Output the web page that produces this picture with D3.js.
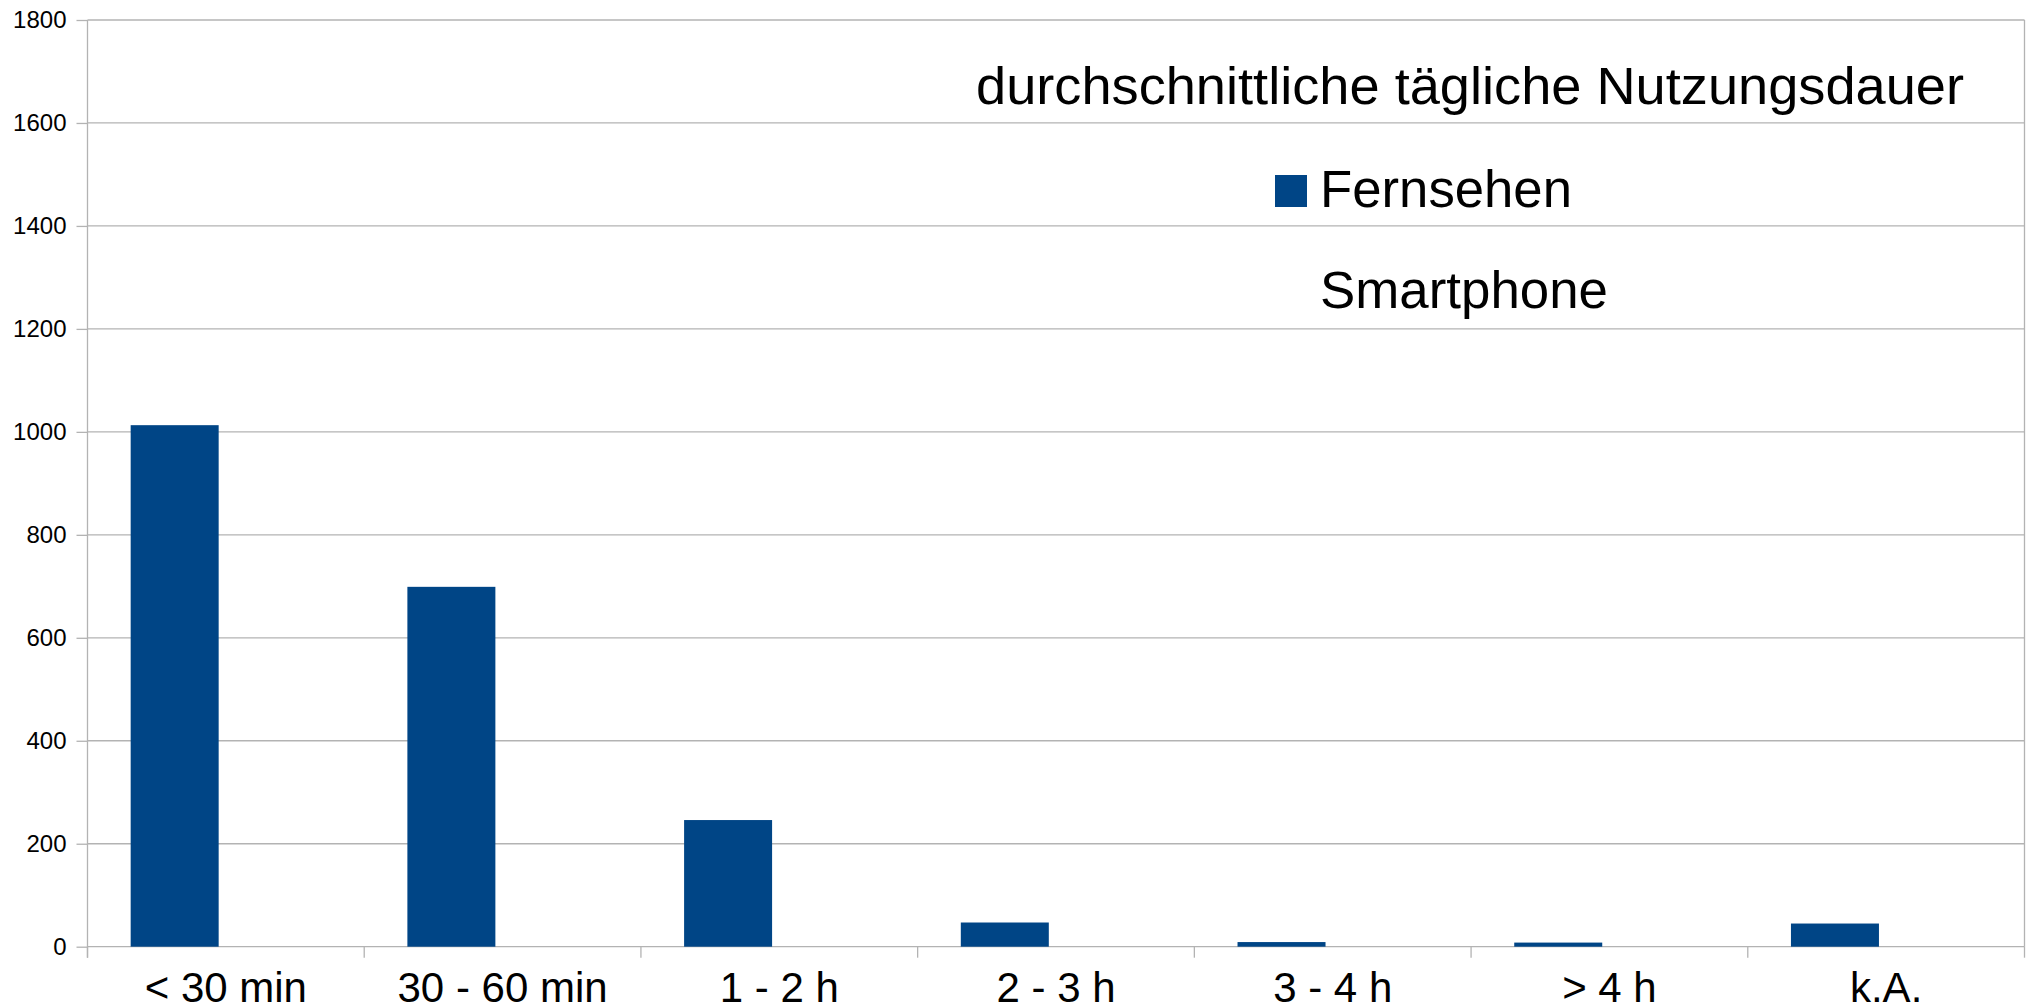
<!DOCTYPE html>
<html>
<head>
<meta charset="utf-8">
<script src="https://cdn.jsdelivr.net/npm/d3@7"></script>
<style>
  html, body { margin: 0; padding: 0; background: #fff; }
  svg text { font-family: "Liberation Sans", Arial, sans-serif; fill: #000; }
</style>
</head>
<body>
<div id="chart"></div>
<script>
// Chart data
const categories = ['< 30 min', '30 - 60 min', '1 - 2 h', '2 - 3 h', '3 - 4 h', '> 4 h', 'k.A.'];
const seriesNames = ['Fernsehen', 'Smartphone'];
const fernsehen = [1013, 699, 246, 47, 9, 8, 45];
const smartphone = [null, null, null, null, null, null, null];
const yTicks = [0, 200, 400, 600, 800, 1000, 1200, 1400, 1600, 1800];
const legendTitle = 'durchschnittliche tägliche Nutzungsdauer';
const seriesColors = ['#004586', 'none'];

const width = 2030, height = 1008;
const plot = { left: 87.5, right: 2024.5, top: 20, bottom: 946.7 };
const gridColor = '#b3b3b3';

const svg = d3.select('#chart')
    .append('svg')
    .attr('width', width)
    .attr('height', height);

const x0 = d3.scaleBand()
    .domain(categories)
    .range([plot.left, plot.right])
    .padding(0);

const bw = x0.bandwidth();
const x1 = d3.scaleBand()
    .domain(seriesNames)
    .range([bw * 0.156, bw * 0.792])
    .padding(0);

const y = d3.scaleLinear()
    .domain([0, 1800])
    .range([plot.bottom, plot.top]);

// Horizontal grid lines
svg.append('g')
    .selectAll('line')
    .data(yTicks)
    .join('line')
    .attr('x1', plot.left)
    .attr('x2', plot.right)
    .attr('y1', d => y(d))
    .attr('y2', d => y(d))
    .style('stroke', gridColor)
    .style('stroke-width', 1.3);

// Right wall border
svg.append('line')
    .attr('x1', plot.right).attr('x2', plot.right)
    .attr('y1', plot.top).attr('y2', plot.bottom)
    .style('stroke', gridColor)
    .style('stroke-width', 1.3);

// Y axis
const yAxis = svg.append('g')
    .attr('transform', `translate(${plot.left},0)`)
    .call(d3.axisLeft(y).tickValues(yTicks).tickFormat(d3.format('d')).tickSize(11).tickPadding(10));
yAxis.select('.domain').remove();
yAxis.append('line')
    .attr('y1', plot.top).attr('y2', plot.bottom + 11);
yAxis.selectAll('line')
    .style('stroke', gridColor)
    .style('stroke-width', 1.3);
yAxis.selectAll('text')
    .attr('font-size', 24)
    .attr('font-family', '"Liberation Sans", Arial, sans-serif')
    .style('fill', '#000');

// X axis ticks at category boundaries
const boundaries = categories.map(c => x0(c)).concat([plot.right]);
svg.append('g')
    .selectAll('line')
    .data(boundaries)
    .join('line')
    .attr('x1', d => d).attr('x2', d => d)
    .attr('y1', plot.bottom).attr('y2', plot.bottom + 11)
    .style('stroke', gridColor)
    .style('stroke-width', 1.3);

svg.append('g')
    .selectAll('text')
    .data(categories)
    .join('text')
    .attr('x', d => x0(d) + bw / 2)
    .attr('y', plot.bottom + 55)
    .attr('text-anchor', 'middle')
    .attr('font-size', 42)
    .text(d => d);

// Bars
const rows = categories.map((c, i) => ({ cat: c, values: [fernsehen[i], smartphone[i]] }));
svg.append('g')
    .selectAll('g')
    .data(rows)
    .join('g')
    .attr('transform', d => `translate(${x0(d.cat)},0)`)
    .selectAll('rect')
    .data(d => d.values.map((v, j) => ({ name: seriesNames[j], value: v, color: seriesColors[j] })))
    .join('rect')
    .filter(d => d.value != null)
    .attr('x', d => x1(d.name))
    .attr('width', x1.bandwidth())
    .attr('y', d => y(d.value))
    .attr('height', d => y(0) - y(d.value))
    .style('fill', d => d.color);

// Legend (text slightly stretched horizontally, as in the original)
const legend = svg.append('g');
legend.append('text')
    .attr('x', 976)
    .attr('y', 104)
    .attr('font-size', 51)
    .attr('textLength', 988)
    .attr('lengthAdjust', 'spacingAndGlyphs')
    .text(legendTitle);

const itemWidths = [252, 288];
const items = legend.selectAll('g.item')
    .data(seriesNames)
    .join('g')
    .attr('class', 'item')
    .attr('transform', (d, i) => `translate(0,${i * 101})`);
items.append('rect')
    .attr('x', 1275)
    .attr('y', 175)
    .attr('width', 32)
    .attr('height', 32)
    .style('fill', (d, i) => seriesColors[i]);
items.append('text')
    .attr('x', 1320)
    .attr('y', 207)
    .attr('font-size', 51)
    .attr('textLength', (d, i) => itemWidths[i])
    .attr('lengthAdjust', 'spacingAndGlyphs')
    .text(d => d);
</script>
</body>
</html>
